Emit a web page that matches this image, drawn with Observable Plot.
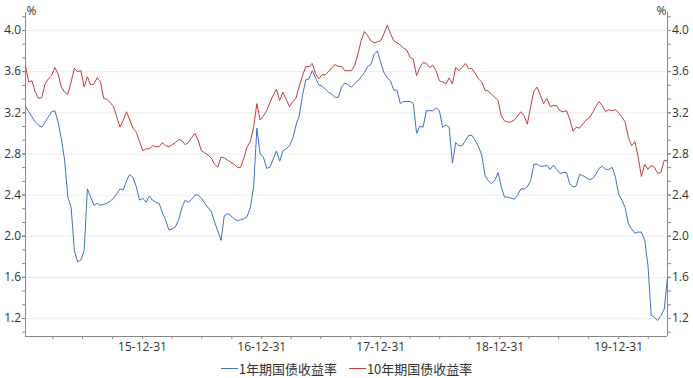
<!DOCTYPE html>
<html>
<head>
<meta charset="utf-8">
<script src="https://cdn.jsdelivr.net/npm/d3@7"></script>
<script src="https://cdn.jsdelivr.net/npm/@observablehq/plot@0.6"></script>
<style>
  body { margin: 0; background: #fff; }
  #chart { width: 693px; }
  .legend { display: flex; justify-content: center; align-items: center; height: 20px;
    font-family: "Noto Sans CJK SC", "Noto Sans", sans-serif; font-size: 13px; color: #333; margin-top: 0px; }
  .legend .item { display: flex; align-items: center; margin: 0 6px; }
  .legend .swatch { display: inline-block; width: 17px; height: 0; border-top: 1px solid; margin-right: 1px; }
</style>
</head>
<body>
<div id="chart"></div>
<script>
// Sampling grid: one reading every 10 days starting 2015-01-06
const startDate = "2015-01-06";
const endDate = "2020-05-29";
const stepDays = 10;

const seriesNames = ["1年期国债收益率", "10年期国债收益率"];
const seriesColors = ["#3f72c0", "#c43c3c"];

// 1-year treasury yield (%)
const y1 = [
 3.26,3.21,3.16,3.11,3.08,3.06,3.11,3.16,3.21,3.22,
 3.11,2.95,2.74,2.38,2.28,1.86,1.75,1.77,1.86,2.46,
 2.38,2.30,2.32,2.30,2.31,2.32,2.34,2.37,2.41,2.46,
 2.45,2.54,2.60,2.57,2.48,2.35,2.37,2.33,2.39,2.35,
 2.33,2.32,2.23,2.16,2.06,2.07,2.09,2.16,2.28,2.35,
 2.33,2.36,2.40,2.40,2.37,2.32,2.28,2.24,2.14,2.05,
 1.96,2.20,2.22,2.20,2.17,2.15,2.16,2.17,2.19,2.28,
 2.48,3.05,2.80,2.77,2.66,2.67,2.75,2.83,2.73,2.83,
 2.85,2.88,2.95,3.08,3.17,3.37,3.52,3.53,3.61,3.54,
 3.47,3.46,3.43,3.40,3.38,3.35,3.35,3.45,3.49,3.47,
 3.45,3.48,3.51,3.55,3.59,3.65,3.67,3.77,3.80,3.69,
 3.59,3.54,3.51,3.42,3.42,3.29,3.31,3.31,3.31,3.29,
 3.00,3.07,3.06,3.22,3.22,3.22,3.25,3.22,3.06,3.08,
 3.06,2.71,2.91,2.88,2.88,2.93,2.98,2.98,2.93,2.87,
 2.79,2.59,2.54,2.51,2.54,2.62,2.48,2.38,2.38,2.37,
 2.36,2.40,2.46,2.46,2.48,2.54,2.70,2.70,2.68,2.68,
 2.69,2.65,2.69,2.65,2.61,2.62,2.62,2.51,2.48,2.49,
 2.60,2.59,2.57,2.55,2.56,2.60,2.66,2.68,2.65,2.65,
 2.67,2.58,2.41,2.35,2.28,2.12,2.07,2.03,2.04,2.04,
 1.96,1.72,1.23,1.21,1.18,1.23,1.29,1.60
];

// 10-year treasury yield (%)
const y10 = [
 3.65,3.50,3.51,3.40,3.34,3.35,3.48,3.53,3.56,3.64,
 3.58,3.45,3.40,3.38,3.50,3.63,3.60,3.61,3.45,3.55,
 3.47,3.48,3.54,3.50,3.34,3.33,3.30,3.26,3.16,3.06,
 3.13,3.21,3.13,3.05,3.01,2.92,2.83,2.85,2.85,2.88,
 2.87,2.87,2.91,2.88,2.87,2.89,2.91,2.94,2.93,2.89,
 2.91,2.96,3.00,2.93,2.83,2.81,2.79,2.76,2.70,2.67,
 2.77,2.76,2.74,2.72,2.70,2.67,2.67,2.76,2.87,2.92,
 3.06,3.29,3.13,3.17,3.22,3.30,3.37,3.43,3.32,3.40,
 3.33,3.26,3.31,3.34,3.46,3.56,3.65,3.65,3.68,3.58,
 3.53,3.57,3.57,3.60,3.64,3.67,3.65,3.65,3.61,3.61,
 3.61,3.66,3.77,3.90,3.99,3.95,3.90,3.88,3.89,3.90,
 3.97,4.05,3.97,3.90,3.88,3.86,3.83,3.81,3.74,3.72,
 3.56,3.64,3.69,3.68,3.64,3.66,3.61,3.51,3.50,3.48,
 3.54,3.48,3.64,3.61,3.64,3.68,3.63,3.63,3.58,3.53,
 3.50,3.42,3.41,3.38,3.35,3.32,3.17,3.12,3.11,3.11,
 3.13,3.17,3.21,3.17,3.09,3.26,3.41,3.45,3.37,3.29,
 3.34,3.26,3.27,3.27,3.22,3.21,3.22,3.14,3.02,3.06,
 3.05,3.09,3.13,3.15,3.20,3.26,3.31,3.27,3.21,3.23,
 3.22,3.23,3.20,3.16,3.11,2.96,2.88,2.92,2.77,2.58,
 2.70,2.65,2.69,2.67,2.61,2.62,2.74,2.73
];

const yLabelTicks = [1.2, 1.6, 2.0, 2.4, 2.8, 3.2, 3.6, 4.0];
const yDomain = [1.025, 4.175];
const xTickLabelFormat = "%y-%m-%d";

const start = new Date(startDate + "T00:00:00Z");
const end = new Date(endDate + "T00:00:00Z");
const n = Math.min(y1.length, y10.length);
const rows1 = [], rows10 = [];
for (let i = 0; i < n; i++) {
  const d = d3.utcDay.offset(start, stepDays * i);
  rows1.push({date: d, value: y1[i]});
  rows10.push({date: d, value: y10[i]});
}

// minor y ticks: thirds between labeled ticks
const minorY = [];
for (let k = -1; k <= yLabelTicks.length * 3; k++) {
  const v = 4.0 - k * 0.4 / 3;
  if (v >= yDomain[0] && v <= yDomain[1]) minorY.push(v);
}
// quarter-end ticks on x
const quarterEnds = [];
for (let yr = 2015; yr <= 2020; yr++) {
  for (const [m, dd] of [[2,31],[5,30],[8,30],[11,31]]) {
    const d = new Date(Date.UTC(yr, m, dd));
    if (d >= start && d <= end) quarterEnds.push(d);
  }
}
const fmt = d3.utcFormat(xTickLabelFormat);

const axisColor = "#888";
const plot = Plot.plot({
  width: 693,
  height: 358,
  marginLeft: 25,
  marginRight: 26,
  marginTop: 12,
  marginBottom: 22,
  style: {fontFamily: "'Segoe UI','Open Sans',sans-serif", fontSize: "12px", color: "#333", background: "#fff"},
  x: {type: "utc", domain: [start, end]},
  y: {domain: yDomain},
  marks: [
    Plot.gridY(yLabelTicks, {stroke: "#ececec", strokeOpacity: 1}),
    Plot.axisY(minorY, {anchor: "left", tickSize: 3, tickFormat: () => "", stroke: axisColor, label: null}),
    Plot.axisY(minorY, {anchor: "right", tickSize: 3, tickFormat: () => "", stroke: axisColor, label: null}),
    Plot.axisY(yLabelTicks, {anchor: "left", tickSize: 3, tickPadding: 1.5, tickFormat: d3.format(".1f"), stroke: axisColor, label: null}),
    Plot.axisY(yLabelTicks, {anchor: "right", tickSize: 3, tickPadding: 1.5, tickFormat: d3.format(".1f"), stroke: axisColor, label: null}),
    Plot.axisX(quarterEnds, {tickSize: 3, tickPadding: 3, stroke: axisColor, label: null,
      tickFormat: d => d.getUTCMonth() === 11 ? fmt(d) : ""}),
    Plot.ruleX([start], {stroke: axisColor}),
    Plot.ruleX([end], {stroke: axisColor}),
    Plot.ruleY([yDomain[0]], {stroke: axisColor}),
    Plot.line(rows1, {x: "date", y: "value", stroke: seriesColors[0], strokeWidth: 1}),
    Plot.line(rows10, {x: "date", y: "value", stroke: seriesColors[1], strokeWidth: 1}),
    Plot.text(["%"], {frameAnchor: "top-left", textAnchor: "start", lineAnchor: "middle", dx: 1, dy: -1, fontSize: 12}),
    Plot.text(["%"], {frameAnchor: "top-right", textAnchor: "end", lineAnchor: "middle", dx: -1, dy: -1, fontSize: 12})
  ]
});
const chart = document.getElementById("chart");
chart.appendChild(plot);

const legend = document.createElement("div");
legend.className = "legend";
seriesNames.forEach((name, i) => {
  const item = document.createElement("span");
  item.className = "item";
  const sw = document.createElement("span");
  sw.className = "swatch";
  sw.style.borderTopColor = seriesColors[i];
  item.appendChild(sw);
  const t = document.createElement("span");
  t.textContent = name;
  item.appendChild(t);
  legend.appendChild(item);
});
chart.appendChild(legend);
</script>
</body>
</html>
